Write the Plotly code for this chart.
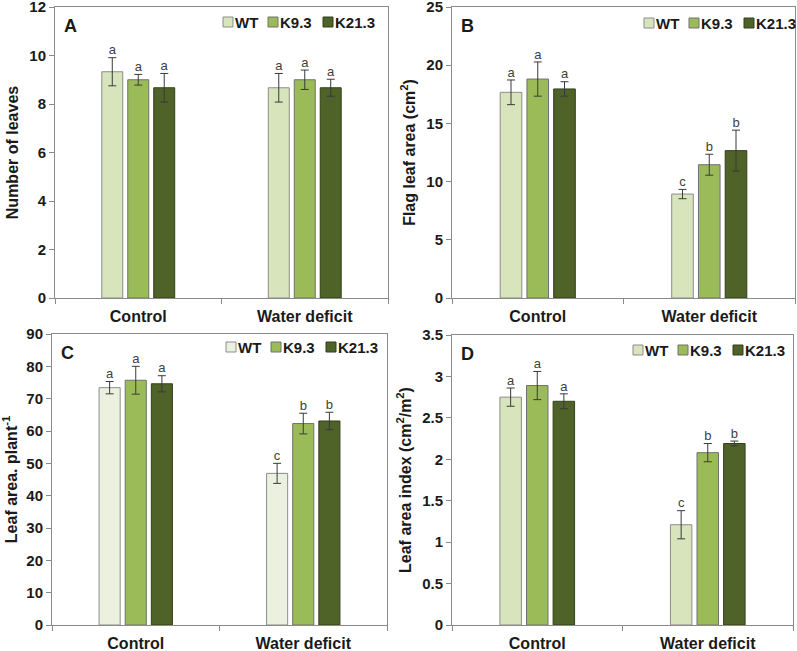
import plotly.graph_objects as go

# ---------------- data ----------------
categories = ["Control", "Water deficit"]
genotypes = ["WT", "K9.3", "K21.3"]

# rows = genotype (WT, K9.3, K21.3), columns = condition (Control, Water deficit)
leaves_mean = [[9.33, 8.67], [9.00, 9.00], [8.67, 8.67]]
leaves_err = [[0.58, 0.59], [0.22, 0.40], [0.59, 0.35]]
leaves_letters = [["a", "a"], ["a", "a"], ["a", "a"]]

flag_mean = [[17.67, 8.93], [18.81, 11.45], [17.96, 12.66]]
flag_err = [[1.06, 0.40], [1.47, 0.90], [0.62, 1.76]]
flag_letters = [["a", "c"], ["a", "b"], ["a", "b"]]

area_mean = [[73.4, 46.9], [75.7, 62.3], [74.6, 63.1]]
area_err = [[1.9, 3.1], [4.3, 3.2], [2.5, 2.7]]
area_letters = [["a", "c"], ["a", "b"], ["a", "b"]]

lai_mean = [[2.75, 1.21], [2.89, 2.08], [2.70, 2.19]]
lai_err = [[0.11, 0.17], [0.17, 0.11], [0.09, 0.03]]
lai_letters = [["a", "c"], ["a", "b"], ["a", "b"]]

# ---------------- style ----------------
W, H = 797, 651
FONT = "Liberation Sans, Arial, sans-serif"
TXT = "#1a1a1a"
AXC = "#8a8a8a"
fill_default = ["#d8e4bc", "#9bbb59", "#4f6228"]
fill_c = ["#ebf1de", "#9bbb59", "#4f6228"]
outline = ["#8c8c8c", "#707070", "#33401a"]
ERRC = "#3a3a3a"

slot = 0.156
bar_w = 0.126

# approximate rendered widths (px) of the legend labels at 15px bold
legend_text_w = {"WT": 23, "K9.3": 33, "K21.3": 42}
LEG_SQ = 10

panels = [
    dict(mean=leaves_mean, err=leaves_err, letters=leaves_letters, fills=fill_default,
         title="Number of leaves", rng=[0, 12], dtick=2, label="A",
         xd=[55 / W, 388 / W], yd=[1 - 298 / H, 1 - 7 / H], leg=(223, 22)),
    dict(mean=flag_mean, err=flag_err, letters=flag_letters, fills=fill_default,
         title="Flag leaf area (cm<sup>2</sup>)", rng=[0, 25], dtick=5, label="B",
         xd=[452 / W, 795 / W], yd=[1 - 298 / H, 1 - 7 / H], leg=(644, 23)),
    dict(mean=area_mean, err=area_err, letters=area_letters, fills=fill_c,
         title="Leaf area. plant<sup>-1</sup>", rng=[0, 90], dtick=10, label="C",
         xd=[52 / W, 387 / W], yd=[1 - 625 / H, 1 - 334 / H], leg=(226, 347)),
    dict(mean=lai_mean, err=lai_err, letters=lai_letters, fills=fill_default,
         title="Leaf area index (cm<sup>2</sup>/m<sup>2</sup>)", rng=[0, 3.5], dtick=0.5, label="D",
         xd=[452 / W, 793 / W], yd=[1 - 625 / H, 1 - 335 / H], leg=(633, 350)),
]

fig = go.Figure()
layout = dict(
    width=W, height=H,
    margin=dict(l=0, r=0, t=0, b=0, autoexpand=False),
    paper_bgcolor="white", plot_bgcolor="white",
    font=dict(family=FONT, color=TXT),
    barmode="overlay",
    showlegend=False,
    annotations=[],
    shapes=[],
)

for p_i, p in enumerate(panels):
    n = "" if p_i == 0 else str(p_i + 1)
    xa, ya = "x" + n, "y" + n
    for s_i, g in enumerate(genotypes):
        xs = [c_i + (s_i - 1) * slot for c_i in range(len(categories))]
        fig.add_trace(go.Bar(
            x=xs, y=p["mean"][s_i], width=bar_w, name=g,
            marker=dict(color=p["fills"][s_i], line=dict(color=outline[s_i], width=1)),
            error_y=dict(type="data", array=p["err"][s_i], visible=True,
                         color=ERRC, thickness=1, width=4),
            xaxis=xa, yaxis=ya,
        ))
        tops = [m + e for m, e in zip(p["mean"][s_i], p["err"][s_i])]
        fig.add_trace(go.Scatter(
            x=xs, y=tops, mode="text", text=p["letters"][s_i],
            textposition="top center",
            textfont=dict(family=FONT, size=13, color="#404040"),
            xaxis=xa, yaxis=ya, hoverinfo="skip",
        ))
    layout["xaxis" + n] = dict(
        domain=p["xd"], anchor=ya, range=[-0.5, 1.5], automargin=False,
        tickmode="array", tickvals=list(range(len(categories))), ticktext=categories,
        ticks="", showline=True, linecolor=AXC, linewidth=1, mirror=True,
        showgrid=False, zeroline=False, ticklabelstandoff=4, ticklabeloverflow="allow",
        tickfont=dict(family=FONT, size=16, color=TXT, weight="bold"),
        minor=dict(tickmode="array", tickvals=[-0.5, 0.5, 1.5], ticks="outside",
                   ticklen=5, tickcolor=AXC, tickwidth=1, showgrid=False),
    )
    layout["yaxis" + n] = dict(
        domain=p["yd"], anchor=xa, range=p["rng"], dtick=p["dtick"], automargin=False,
        ticks="outside", ticklen=5, tickcolor=AXC, tickwidth=1,
        showline=True, linecolor=AXC, linewidth=1, mirror=True,
        showgrid=False, zeroline=False, ticklabeloverflow="allow",
        tickfont=dict(family=FONT, size=15, color=TXT, weight="bold"),
        title=dict(text=p["title"], standoff=6,
                   font=dict(family=FONT, size=16, color=TXT, weight="bold")),
    )
    # panel letter
    layout["annotations"].append(dict(
        text=p["label"], xref=xa + " domain", yref=ya + " domain",
        x=0.02, y=0.975, xanchor="left", yanchor="top", showarrow=False,
        font=dict(family=FONT, size=18, color=TXT, weight="bold"),
    ))
    # compact legend: square key + label for each genotype
    lx, ly = p["leg"]
    for s_i, g in enumerate(genotypes):
        layout["shapes"].append(dict(
            type="rect", xref="paper", yref="paper",
            x0=lx / W, x1=(lx + LEG_SQ) / W,
            y0=1 - (ly + LEG_SQ / 2) / H, y1=1 - (ly - LEG_SQ / 2) / H,
            fillcolor=p["fills"][s_i], line=dict(color=outline[s_i], width=1),
        ))
        layout["annotations"].append(dict(
            text=g, xref="paper", yref="paper",
            x=(lx + LEG_SQ + 1) / W, y=1 - ly / H, xanchor="left", yanchor="middle",
            showarrow=False, borderpad=0,
            font=dict(family=FONT, size=15, color=TXT, weight="bold"),
        ))
        lx += LEG_SQ + 2 + legend_text_w[g] + 10

fig.update_layout(**layout)
fig.write_html("out.html", config={"displayModeBar": False},
               post_script="document.body.style.margin='0';")
